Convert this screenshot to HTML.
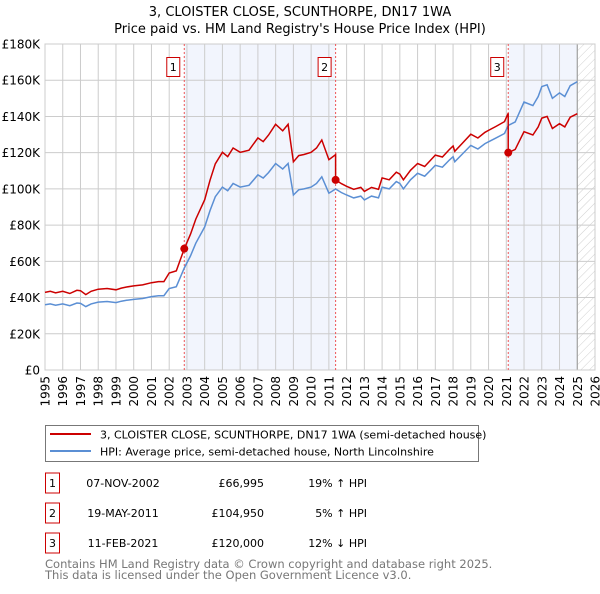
<!DOCTYPE html>
<html><head><meta charset="utf-8"><style>
body{margin:0;background:#fff;font-family:"DejaVu Sans","Liberation Sans",sans-serif;}
svg text{font-family:"DejaVu Sans","Liberation Sans",sans-serif;}
</style></head><body>
<svg id="chart" width="600" height="590" xmlns="http://www.w3.org/2000/svg">
<defs><pattern id="hatch" width="6" height="6" patternUnits="userSpaceOnUse" patternTransform="rotate(45)"><line x1="0" y1="0" x2="0" y2="6" stroke="#d0d0d0" stroke-width="1"/></pattern></defs>
<text x="300" y="16" text-anchor="middle" font-size="13">3, CLOISTER CLOSE, SCUNTHORPE, DN17 1WA</text>
<text x="300" y="33" text-anchor="middle" font-size="13">Price paid vs. HM Land Registry's House Price Index (HPI)</text>
<g id="plot"></g>
<rect x="45.5" y="425.5" width="433" height="36" fill="#fff" stroke="#777"/>
<line x1="50" y1="434" x2="91" y2="434" stroke="#cc0000" stroke-width="2"/>
<text x="100" y="438.5" font-size="11">3, CLOISTER CLOSE, SCUNTHORPE, DN17 1WA (semi-detached house)</text>
<line x1="50" y1="451" x2="91" y2="451" stroke="#5b8fd4" stroke-width="2"/>
<text x="100" y="455.5" font-size="11">HPI: Average price, semi-detached house, North Lincolnshire</text>
<g id="table" font-size="11"></g>
<text x="45" y="568" font-size="11.5" fill="#777">Contains HM Land Registry data © Crown copyright and database right 2025.</text>
<text x="45" y="579" font-size="11.5" fill="#777">This data is licensed under the Open Government Licence v3.0.</text>
</svg>
<script>
const hpiDates=[1995,1995.3,1995.6,1996,1996.4,1996.8,1997,1997.3,1997.6,1998,1998.5,1999,1999.3,1999.6,2000,2000.5,2001,2001.4,2001.7,2002,2002.4,2002.85,2003.2,2003.5,2004,2004.3,2004.6,2005,2005.3,2005.6,2006,2006.5,2007,2007.3,2007.6,2008,2008.4,2008.7,2009,2009.3,2009.6,2010,2010.3,2010.6,2011,2011.38,2011.7,2012,2012.4,2012.8,2013,2013.4,2013.8,2014,2014.4,2014.8,2015,2015.2,2015.6,2016,2016.4,2016.8,2017,2017.4,2017.8,2018,2018.1,2018.5,2019,2019.4,2019.8,2020,2020.4,2020.9,2021.11,2021.5,2022,2022.5,2022.8,2023,2023.3,2023.6,2024,2024.3,2024.6,2025];
const hpiValues=[36,36.5,35.8,36.5,35.5,37,36.8,35,36.5,37.5,37.8,37.2,38,38.5,39,39.5,40.5,41,41,45,46,56.3,63,70,79,88,95.7,101,99,103,101,102,107.7,106,109,114,111,114,96.6,99.5,100,101,103,106.7,97.6,99.95,98,96.6,95,96,93.9,96,95,101,100,104,103,100,105,108.6,107,111,113,112,116,117.8,115,119,124,122,125,126,128,130.6,135,137,148,146,151,156.5,157.5,150,153,151,157,159.2];
const saleDates=[2002.85,2011.38,2021.11];
const salePrices=[66995,104950,120000];
const saleLabels=["1","2","3"];
const saleDateText=["07-NOV-2002","19-MAY-2011","11-FEB-2021"];
const salePriceText=["£66,995","£104,950","£120,000"];
const saleHpiText=["19% ↑ HPI","5% ↑ HPI","12% ↓ HPI"];
const yTicks=[0,20,40,60,80,100,120,140,160,180];
const yTickLabels=["£0","£20K","£40K","£60K","£80K","£100K","£120K","£140K","£160K","£180K"];
const xTicks=[1995,1996,1997,1998,1999,2000,2001,2002,2003,2004,2005,2006,2007,2008,2009,2010,2011,2012,2013,2014,2015,2016,2017,2018,2019,2020,2021,2022,2023,2024,2025,2026];

const L=45,R=595,T=44,B=370;
const X=d=>L+(d-1995)/(2026-1995)*(R-L);
const Y=v=>B-v/180*(B-T);
const NS="http://www.w3.org/2000/svg";
const plot=document.getElementById('plot');
function mk(tag,attrs,parent){const e=document.createElementNS(NS,tag);for(const k in attrs)e.setAttribute(k,attrs[k]);(parent||plot).appendChild(e);return e;}
function hpiAt(d){for(let i=1;i<hpiDates.length;i++){if(d<=hpiDates[i]){const t=(d-hpiDates[i-1])/(hpiDates[i]-hpiDates[i-1]);return hpiValues[i-1]+t*(hpiValues[i]-hpiValues[i-1]);}}return hpiValues[hpiValues.length-1];}

let bg=mk('rect',{x:L,y:T,width:R-L,height:B-T,fill:'#fff'});


[[saleDates[0],saleDates[1]],[saleDates[2],2025.0]].forEach((b,i)=>{
  let r=mk('rect',{x:X(b[0]),y:T,width:X(b[1])-X(b[0]),height:B-T,fill:'#f2f5fd'});
  
  
});
let h=mk('rect',{x:X(2025.0),y:T,width:R-X(2025.0),height:B-T,fill:'url(#hatch)'});


yTicks.forEach((v,i)=>{
  mk('line',{x1:L,x2:R,y1:Y(v),y2:Y(v),stroke:'#ccc','stroke-width':1});
  let t=mk('text',{x:L-5,y:Y(v)+4.5,'text-anchor':'end','font-size':12});
  t.textContent=yTickLabels[i];
  
  
});
xTicks.forEach(d=>{
  mk('line',{x1:X(d),x2:X(d),y1:T,y2:B,stroke:'#ccc','stroke-width':1});
  let t=mk('text',{transform:`translate(${X(d)+4.5},${B+6}) rotate(-90)`,'text-anchor':'end','font-size':12});
  t.textContent=d;
  
  
});
mk('line',{x1:X(2025.0),x2:X(2025.0),y1:T,y2:B,stroke:'#999','stroke-width':1});
mk('rect',{x:L,y:T,width:R-L,height:B-T,fill:'none',stroke:'#ccc'});
saleDates.forEach((d,i)=>{
  let l=mk('line',{x1:X(d),x2:X(d),y1:T,y2:B,stroke:'#e55','stroke-width':1,'stroke-dasharray':'2,2'});
  
  
  let r=mk('rect',{x:X(d)-17.5,y:57.5,width:13,height:19,fill:'#fff',stroke:'#c00'});
  
  
  let t=mk('text',{x:X(d)-11,y:71,'text-anchor':'middle','font-size':11});
  t.textContent=saleLabels[i];
});
let hp=hpiDates.map((d,i)=>X(d).toFixed(1)+','+Y(hpiValues[i]).toFixed(1)).join(' ');
let hl=mk('polyline',{points:hp,fill:'none',stroke:'#5b8fd4','stroke-width':1.5});


let pts=[];
const segIdx=d=>{let k=0;for(let i=0;i<saleDates.length;i++)if(d>=saleDates[i])k=i;return k;};
let allD=hpiDates.concat(saleDates).sort((a,b)=>a-b);
allD.forEach(d=>{
  saleDates.forEach((s,i)=>{if(i>0&&Math.abs(d-s)<1e-9){const prev=salePrices[i-1]/1000/hpiAt(saleDates[i-1]);pts.push([d,hpiAt(d)*prev]);}});
  const k=segIdx(d);const ratio=salePrices[k]/1000/hpiAt(saleDates[k]);
  pts.push([d,hpiAt(d)*ratio]);
});
let pl=mk('polyline',{points:pts.map(p=>X(p[0]).toFixed(1)+','+Y(p[1]).toFixed(1)).join(' '),fill:'none',stroke:'#cc0000','stroke-width':1.5});


saleDates.forEach((d,i)=>{
  let c=mk('circle',{cx:X(d),cy:Y(salePrices[i]/1000),r:4,fill:'#cc0000'});
  
  
});
const tb=document.getElementById('table');
saleDates.forEach((d,i)=>{
  const y=483+i*30;
  let r=mk('rect',{x:45.5,y:y-10,width:14,height:20,fill:'none',stroke:'#c00'},tb);
  
  
  let t=mk('text',{x:52.5,y:y+4,'text-anchor':'middle'},tb);t.textContent=saleLabels[i];
  t=mk('text',{x:123,y:y+4,'text-anchor':'middle'},tb);t.textContent=saleDateText[i];
  
  
  t=mk('text',{x:264,y:y+4,'text-anchor':'end'},tb);t.textContent=salePriceText[i];
  
  
  t=mk('text',{x:367,y:y+4,'text-anchor':'end'},tb);t.textContent=saleHpiText[i];
  
  
});
</script>
</body></html>
